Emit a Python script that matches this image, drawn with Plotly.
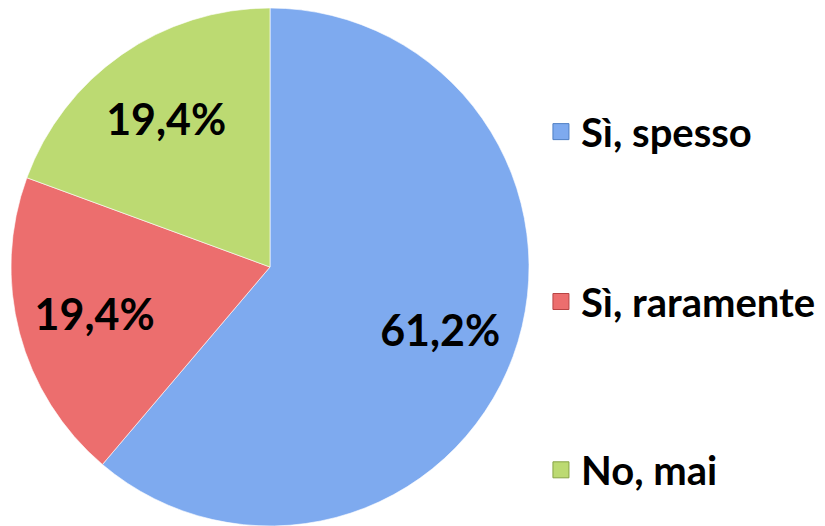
import plotly.graph_objects as go

labels = ['Sì, spesso', 'Sì, raramente', 'No, mai']
values = [61.2, 19.4, 19.4]
colors = ['#7EAAEF', '#EC6E6E', '#BCDA72']
edge_colors = ['#4F7FC4', '#B84444', '#86A444']

# the page body adds an 8px margin, so the pie is nudged up/left to compensate
pie_domain = dict(x=[3 / 825, 521 / 825], y=[0.0152, 1.0])

fig = go.Figure()

# filled pie, no text
fig.add_trace(go.Pie(
    labels=labels,
    values=values,
    sort=False,
    direction='clockwise',
    rotation=0,
    marker=dict(colors=colors, line=dict(color='rgba(255,255,255,0.6)', width=1)),
    textinfo='none',
    showlegend=False,
    hoverinfo='label+percent',
    domain=pie_domain,
))

# transparent ring on top just to push the labels further out, like the original
fig.add_trace(go.Pie(
    labels=labels,
    values=values,
    sort=False,
    direction='clockwise',
    rotation=0,
    hole=0.4,
    marker=dict(colors=['rgba(0,0,0,0)'] * 3, line=dict(width=0)),
    texttemplate='%{percent:.1%}',
    textposition='inside',
    insidetextorientation='horizontal',
    textfont=dict(family='Lato', size=43, color='black', weight='bold'),
    showlegend=False,
    hoverinfo='skip',
    domain=pie_domain,
))

# legend entries as dummy square markers, one legend each so they can be spaced out
legend_y = [0.765, 0.442, 0.122]
for i, lab in enumerate(labels):
    fig.add_trace(go.Scatter(
        x=[None], y=[None],
        mode='markers',
        name=lab,
        marker=dict(symbol='square', size=16, color=colors[i],
                    line=dict(color=edge_colors[i], width=1)),
        legend='legend' if i == 0 else f'legend{i + 1}',
        hoverinfo='skip',
    ))

legend_style = dict(
    x=0.646, xanchor='left', yanchor='middle',
    font=dict(family='Lato', size=40, color='black', weight='bold'),
    bgcolor='rgba(0,0,0,0)', itemsizing='trace', itemwidth=30,
)

fig.update_layout(
    width=825, height=526,
    margin=dict(l=0, r=0, t=0, b=0, autoexpand=False),
    paper_bgcolor='white',
    plot_bgcolor='white',
    separators=',.',
    xaxis=dict(visible=False),
    yaxis=dict(visible=False),
    legend=dict(y=legend_y[0], **legend_style),
    legend2=dict(y=legend_y[1], **legend_style),
    legend3=dict(y=legend_y[2], **legend_style),
)

fig.write_html("out.html")
